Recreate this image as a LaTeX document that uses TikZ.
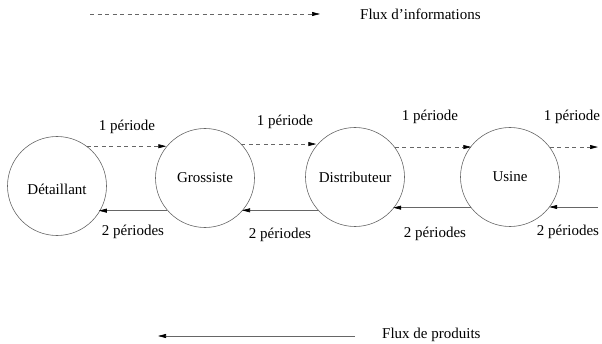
\documentclass[tikz,border=0pt]{standalone}
\usepackage{fontspec}
\setmainfont{Liberation Serif}
\usetikzlibrary{arrows.meta}
\usetikzlibrary{positioning}
\definecolor{linegray}{rgb}{0.4,0.4,0.4}

\begin{document}
\begin{tikzpicture}[line cap=butt,line join=round,x=1pt,y=1pt,
  font=\fontsize{15}{18}\selectfont,
  acteur/.style={circle,draw=linegray,line width=0.6pt,minimum size=99pt,inner sep=0pt},
  info/.style={draw=linegray,line width=0.6pt,dash pattern=on 4pt off 3.5pt,
    -{Triangle[length=8pt,width=4pt,color=black]}},
  produit/.style={draw=linegray,line width=0.6pt,
    -{Triangle[length=8pt,width=4pt,color=black]}},
  lbl/.style={inner sep=0pt}]
\useasboundingbox (0,0) rectangle (602,343);
% acteurs de la chaine
\node[acteur] (det) at (57,157) {};
\node[lbl] at (57,154) {Détaillant};
\node[acteur] (gro) at (205,165) {Grossiste};
\node[acteur] (dis) at (355,166) {Distributeur};
\node[acteur] (usi) at (510,166) {Usine};
\coordinate (infout) at (598,197);
\coordinate (prodin) at (598,136);
% flux d'informations
\draw[info] (det.53) -- (det.53 -| gro.141);
\draw[info] (gro.43) -- (gro.43 -| dis.141);
\draw[info] (dis.37) -- (dis.37 -| usi.141);
\draw[info] (usi.37) -- (usi.37 -| infout);
% flux de produits
\draw[produit] (gro.221) -- (gro.221 -| det.327);
\draw[produit] (dis.222) -- (dis.222 -| gro.318);
\draw[produit] (usi.218) -- (usi.218 -| dis.320);
\draw[produit] (prodin) -- (prodin -| usi.322);
% delais
\node[lbl] (d1) at (127,216) {1 période};
\node[lbl] (d2) at (285,221) {1 période};
\node[lbl] (d3) at (430,226) {1 période};
\node[lbl] (d4) at (572,226) {1 période};
\node[lbl] (p1) at (133,111) {2 périodes};
\node[lbl] (p2) at (280,108) {2 périodes};
\node[lbl] (p3) at (435,109) {2 périodes};
\node[lbl] (p4) at (568,111) {2 périodes};
% legende
\coordinate (li1) at (90,329);
\coordinate (li2) at (320,329);
\node[lbl,anchor=west] (linfo) at (360,329) {Flux d’informations};
\draw[info] (li1) -- (li2);
\coordinate (lp1) at (355,7);
\coordinate (lp2) at (158,7);
\node[lbl,anchor=west] (lprod) at (382,8) {Flux de produits};
\draw[produit] (lp1) -- (lp2);
\end{tikzpicture}
\end{document}
